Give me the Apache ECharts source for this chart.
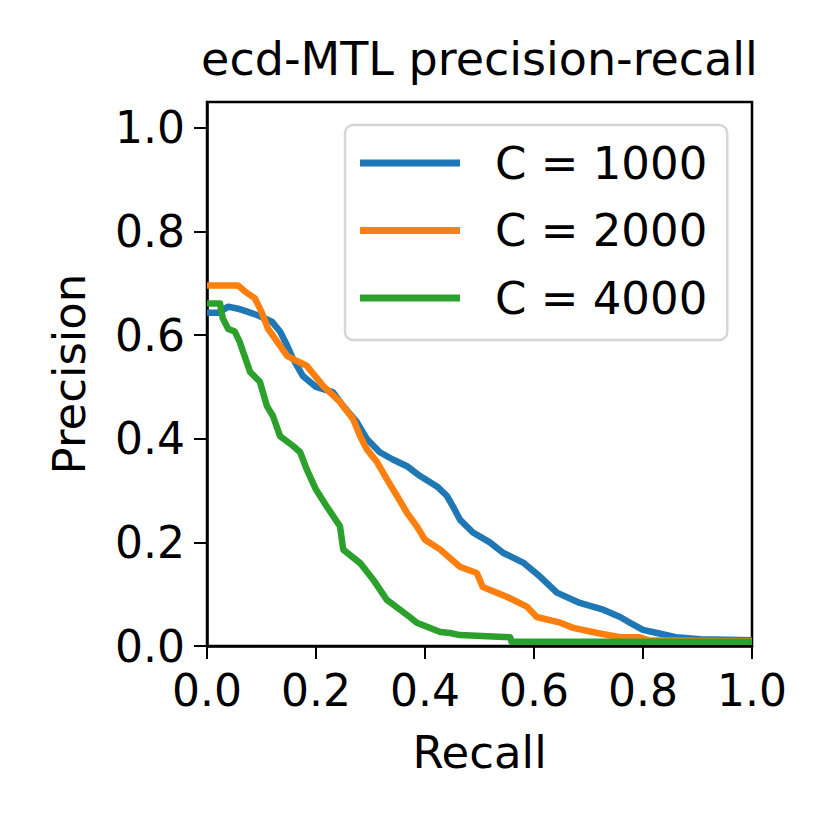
<!DOCTYPE html>
<html>
<head>
<meta charset="utf-8">
<script src="https://cdn.jsdelivr.net/npm/echarts@6/dist/echarts.min.js"></script>
<style>
html,body{margin:0;padding:0;background:#fff;}
#chart{width:830px;height:830px;}
</style>
</head>
<body>
<div id="chart"></div>
<script>
const titleText = 'ecd-MTL precision-recall';
const xLabel = 'Recall';
const yLabel = 'Precision';
const seriesNames = ['C = 1000', 'C = 2000', 'C = 4000'];
const tickValues = [0, 0.2, 0.4, 0.6, 0.8, 1.0];

const recall1000 = [0, 0.02, 0.039, 0.057, 0.075, 0.094, 0.119, 0.134, 0.147, 0.158, 0.176, 0.2, 0.231, 0.25, 0.275, 0.293, 0.317, 0.341, 0.367, 0.391, 0.422, 0.44, 0.451, 0.464, 0.488, 0.519, 0.543, 0.58, 0.611, 0.642, 0.684, 0.727, 0.758, 0.776, 0.8, 0.826, 0.86, 0.905, 1.0];
const precision1000 = [0.643, 0.643, 0.655, 0.651, 0.645, 0.638, 0.626, 0.607, 0.58, 0.554, 0.521, 0.5, 0.49, 0.463, 0.432, 0.4, 0.374, 0.36, 0.347, 0.328, 0.308, 0.29, 0.27, 0.244, 0.219, 0.2, 0.18, 0.161, 0.134, 0.103, 0.083, 0.07, 0.056, 0.045, 0.031, 0.025, 0.017, 0.013, 0.011];

const recall2000 = [0, 0.057, 0.07, 0.088, 0.1, 0.112, 0.121, 0.147, 0.165, 0.183, 0.213, 0.244, 0.268, 0.281, 0.293, 0.312, 0.33, 0.349, 0.367, 0.385, 0.4, 0.428, 0.464, 0.495, 0.506, 0.55, 0.587, 0.605, 0.648, 0.672, 0.716, 0.758, 0.794, 0.81, 0.9, 1.0];
const precision2000 = [0.696, 0.696, 0.684, 0.671, 0.645, 0.612, 0.599, 0.56, 0.55, 0.541, 0.502, 0.471, 0.438, 0.405, 0.38, 0.355, 0.322, 0.289, 0.257, 0.231, 0.205, 0.186, 0.153, 0.141, 0.114, 0.095, 0.076, 0.056, 0.045, 0.035, 0.025, 0.017, 0.017, 0.011, 0.01, 0.009];

const recall4000 = [0, 0.024, 0.029, 0.039, 0.051, 0.06, 0.079, 0.097, 0.11, 0.121, 0.134, 0.158, 0.171, 0.183, 0.2, 0.22, 0.244, 0.25, 0.281, 0.305, 0.33, 0.372, 0.385, 0.428, 0.446, 0.464, 0.556, 0.559, 1.0];
const precision4000 = [0.661, 0.661, 0.632, 0.612, 0.607, 0.587, 0.529, 0.51, 0.463, 0.444, 0.405, 0.386, 0.374, 0.341, 0.302, 0.269, 0.231, 0.186, 0.16, 0.128, 0.089, 0.056, 0.045, 0.027, 0.025, 0.021, 0.017, 0.008, 0.008];

const colors = ['#1f77b4', '#ff7f0e', '#2ca02c'];
const FONT = 'DejaVu Sans';

function pairs(xs, ys) { return xs.map((x, i) => [x, ys[i]]); }
const allData = [pairs(recall1000, precision1000), pairs(recall2000, precision2000), pairs(recall4000, precision4000)];

const chart = echarts.init(document.getElementById('chart'), null, {renderer: 'svg'});
chart.setOption({
  animation: false,
  backgroundColor: '#fff',
  title: {
    text: titleText,
    left: 479.5,
    top: 36,
    padding: 0,
    textAlign: 'center',
    textStyle: {fontFamily: FONT, fontSize: 46, fontWeight: 'normal', color: '#000'}
  },
  grid: {
    left: 207, top: 102, width: 545, height: 544,
    show: true, borderColor: '#000', borderWidth: 2.5, backgroundColor: 'transparent'
  },
  legend: {
    orient: 'vertical',
    left: 345, top: 125,
    padding: [13, 20, 17, 15],
    itemGap: 17.5,
    itemWidth: 100,
    itemHeight: 7,
    icon: 'rect',
    borderColor: '#d6d6d6',
    borderWidth: 2.5,
    borderRadius: 8,
    backgroundColor: '#fff',
    textStyle: {fontFamily: FONT, fontSize: 45, color: '#000', lineHeight: 50, padding: [0, 0, 0, 30]},
    data: seriesNames
  },
  xAxis: {
    type: 'value', min: 0, max: 1, interval: 0.2,
    name: xLabel, nameLocation: 'middle', nameGap: 84,
    nameTextStyle: {fontFamily: FONT, fontSize: 45, color: '#000'},
    axisLine: {show: true, lineStyle: {color: '#000', width: 2.5}},
    axisTick: {show: true, length: 13, lineStyle: {color: '#000', width: 2}},
    axisLabel: {fontFamily: FONT, fontSize: 44, color: '#000', margin: 22, formatter: v => v.toFixed(1)},
    splitLine: {show: false}
  },
  yAxis: {
    type: 'value', min: 0, max: 1.05,
    name: yLabel, nameLocation: 'middle', nameGap: 115, nameRotate: 90,
    nameTextStyle: {fontFamily: FONT, fontSize: 45, color: '#000'},
    axisLine: {show: true, lineStyle: {color: '#000', width: 2.5}},
    axisTick: {show: true, length: 13, lineStyle: {color: '#000', width: 2}, customValues: tickValues},
    axisLabel: {fontFamily: FONT, fontSize: 44, color: '#000', margin: 22, customValues: tickValues, formatter: v => v.toFixed(1)},
    splitLine: {show: false}
  },
  series: seriesNames.map((name, i) => ({
    name: name,
    type: 'line',
    data: allData[i],
    showSymbol: false,
    symbol: 'none',
    color: colors[i],
    lineStyle: {width: 6.5, color: colors[i], join: 'round'},
    z: 2 + i
  }))
});
</script>
</body>
</html>
